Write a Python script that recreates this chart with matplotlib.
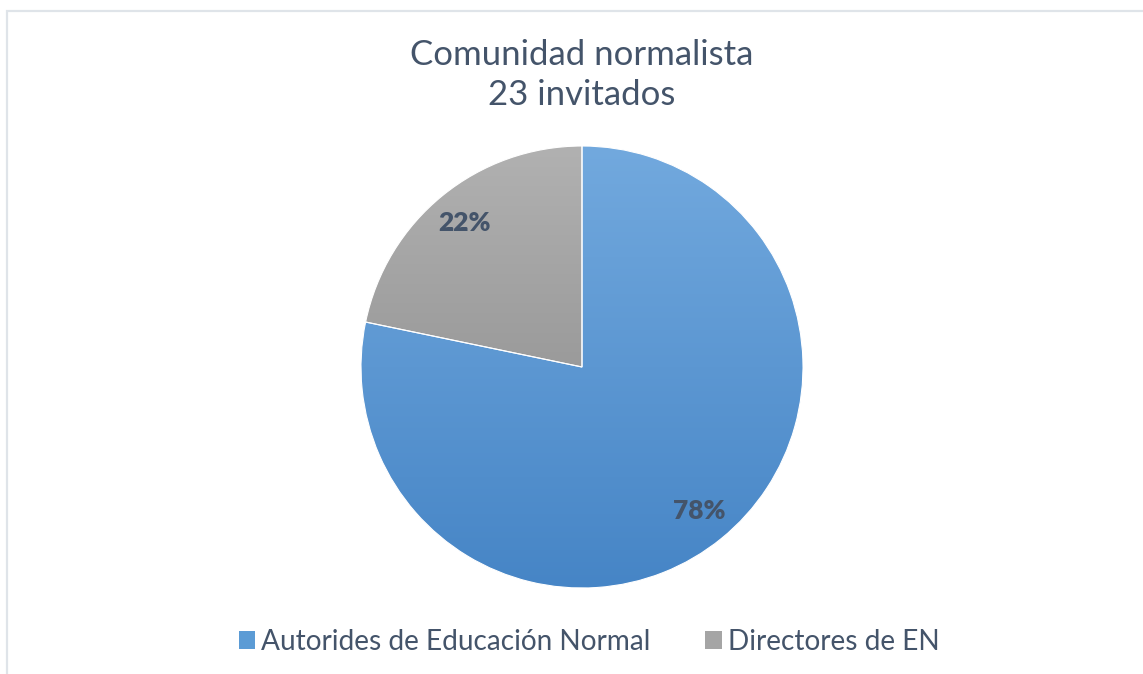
import numpy as np
import matplotlib.pyplot as plt
from matplotlib.colors import LinearSegmentedColormap
from matplotlib.patches import Rectangle, Patch

# data
categories = ['Autorides de Educación Normal', 'Directores de EN']
values = [18, 5]
title = 'Comunidad normalista\n23 invitados'

# gradient colours (top, bottom) per slice
grad_colors = [('#72a9de', '#4685c6'), ('#b1b1b1', '#848484')]
legend_colors = ['#5b9bd5', '#a5a5a5']
text_color = '#44546a'

plt.rcParams['font.family'] = ['Lato', 'DejaVu Sans']

W, H = 1143, 674
fig = plt.figure(figsize=(W / 100, H / 100), dpi=100)

# light chart frame
fig.patches.append(Rectangle((7 / W, -0.05), 1.2, (H - 11) / H + 0.05,
                             transform=fig.transFigure, fill=False,
                             edgecolor='#dfe4e9', linewidth=1.6))

cx, cy, r = 582, 367, 221
ax = fig.add_axes([(cx - r) / W, (H - cy - r) / H, 2 * r / W, 2 * r / H])

wedges, texts, autotexts = ax.pie(values, startangle=90, counterclock=False,
                                  autopct='%1.0f%%', pctdistance=0.84,
                                  radius=1,
                                  wedgeprops=dict(edgecolor='white', linewidth=0.8),
                                  textprops=dict(color=text_color, fontsize=19,
                                                 fontweight='heavy'))
ax.set_xlim(-1, 1)
ax.set_ylim(-1, 1)
ax.set_aspect('equal')
ax.axis('off')

grad = np.linspace(0, 1, 256).reshape(-1, 1)
for w, (top, bottom) in zip(wedges, grad_colors):
    cmap = LinearSegmentedColormap.from_list('g', [top, bottom])
    im = ax.imshow(grad, cmap=cmap, extent=(-1, 1, -1, 1), origin='upper',
                   aspect='auto', zorder=w.get_zorder() - 0.1)
    im.set_clip_path(w)
    w.set_facecolor('none')

for t in autotexts:
    t.set_zorder(5)

fig.text(cx / W, 1 - 75 / H, title, ha='center', va='center',
         fontsize=25, color=text_color, linespacing=1.3)

handles = [Patch(facecolor=c, edgecolor='none') for c in legend_colors]
fig.legend(handles, categories, loc='center', bbox_to_anchor=(589 / W, 1 - 642 / H),
           ncol=2, frameon=False, fontsize=20.2, labelcolor=text_color,
           handlelength=0.6, handleheight=0.6, handletextpad=0.2,
           columnspacing=1.95)

fig.savefig('out.png', dpi=100)
